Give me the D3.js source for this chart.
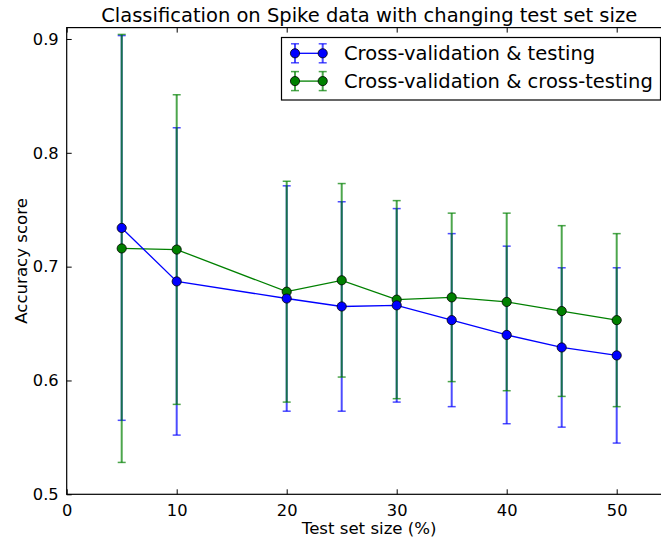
<!DOCTYPE html>
<html>
<head>
<meta charset="utf-8">
<script src="https://cdn.jsdelivr.net/npm/d3@7"></script>
<style>
  body { margin: 0; background: #fff; }
  text { font-family: "DejaVu Sans", sans-serif; fill: #000; }
</style>
</head>
<body>
<div id="chart"></div>
<script>
// Data
var testSizes = [5, 10, 20, 25, 30, 35, 40, 45, 50];
var testMean = [0.734, 0.687, 0.672, 0.665, 0.666, 0.653, 0.640, 0.629, 0.622];
var testErr = [0.169, 0.135, 0.099, 0.092, 0.085, 0.076, 0.078, 0.070, 0.077];
var crossMean = [0.716, 0.715, 0.678, 0.688, 0.671, 0.673, 0.669, 0.661, 0.653];
var crossErr = [0.188, 0.136, 0.097, 0.085, 0.087, 0.074, 0.078, 0.075, 0.076];
var xTicks = [0, 10, 20, 30, 40, 50];
var yTicks = [0.5, 0.6, 0.7, 0.8, 0.9];
var seriesNames = ["Cross-validation & testing", "Cross-validation & cross-testing"];

var svgWidth = 661;
var svgHeight = 540;

// axes box (right edge runs past the window like in the original)
var margin = { top: 27.6, left: 66.7 };
var width = 605;
var height = 466.7;

var svg = d3.select("#chart")
  .append("svg")
  .attr("width", svgWidth)
  .attr("height", svgHeight);

var chartGroup = svg.append("g")
  .attr("transform", `translate(${margin.left}, ${margin.top})`);

var xScale = d3.scaleLinear().domain([0, 55]).range([0, width]);
var yScale = d3.scaleLinear().domain([0.5, 0.91]).range([height, 0]);

var blue = "#0000ff";
var green = "#008000";

var series = [
  { name: seriesNames[0], color: blue, data: testSizes.map((x, i) => ({ x: x, y: testMean[i], e: testErr[i] })) },
  { name: seriesNames[1], color: green, data: testSizes.map((x, i) => ({ x: x, y: crossMean[i], e: crossErr[i] })) }
];

// error bars: blue first, green on top, both a little transparent
series.forEach(function(s) {
  var g = chartGroup.append("g")
    .attr("stroke", s.color)
    .attr("stroke-opacity", 0.7)
    .attr("stroke-width", 2);
  g.selectAll("line.bar")
    .data(s.data)
    .enter()
    .append("line")
    .attr("x1", d => xScale(d.x))
    .attr("x2", d => xScale(d.x))
    .attr("y1", d => yScale(d.y - d.e))
    .attr("y2", d => yScale(d.y + d.e));
  [-1, 1].forEach(function(sign) {
    g.selectAll(null)
      .data(s.data)
      .enter()
      .append("line")
      .attr("stroke-width", 1.5)
      .attr("x1", d => xScale(d.x) - 4)
      .attr("x2", d => xScale(d.x) + 4)
      .attr("y1", d => yScale(d.y + sign * d.e))
      .attr("y2", d => yScale(d.y + sign * d.e));
  });
});

// lines + markers (green first, blue markers end up on top)
var line = d3.line().x(d => xScale(d.x)).y(d => yScale(d.y));
[series[1], series[0]].forEach(function(s) {
  chartGroup.append("path")
    .datum(s.data)
    .attr("fill", "none")
    .attr("stroke", s.color)
    .attr("stroke-width", 1.3)
    .attr("d", line);
  chartGroup.selectAll(null)
    .data(s.data)
    .enter()
    .append("circle")
    .attr("cx", d => xScale(d.x))
    .attr("cy", d => yScale(d.y))
    .attr("r", 4.6)
    .attr("fill", s.color)
    .attr("stroke", "#000")
    .attr("stroke-width", 0.8);
});

// frame
chartGroup.append("rect")
  .attr("width", width)
  .attr("height", height)
  .attr("fill", "none")
  .attr("stroke", "#000")
  .attr("stroke-width", 1.2);

// inward ticks, matplotlib classic style
var bottomAxis = d3.axisBottom(xScale).tickValues(xTicks).tickSize(-5).tickPadding(10).tickFormat(d3.format("d"));
var topAxis = d3.axisTop(xScale).tickValues(xTicks).tickSize(-5).tickFormat("");
var leftAxis = d3.axisLeft(yScale).tickValues(yTicks).tickSize(-5).tickPadding(8).tickFormat(d3.format(".1f"));

var xAxis = chartGroup.append("g")
  .attr("transform", `translate(0, ${height})`)
  .call(bottomAxis);
chartGroup.append("g").call(topAxis);
var yAxis = chartGroup.append("g").call(leftAxis);

[xAxis, yAxis].forEach(function(a) {
  a.selectAll("text").style("font-size", "16.3px").attr("font-family", null);
});
chartGroup.selectAll(".domain").remove();
chartGroup.selectAll(".tick line").attr("stroke", "#000");

// title and axis labels
svg.append("text")
  .attr("x", margin.left + width / 2)
  .attr("y", 22)
  .attr("text-anchor", "middle")
  .style("font-size", "19.5px")
  .text("Classification on Spike data with changing test set size");

svg.append("text")
  .attr("x", margin.left + width / 2)
  .attr("y", 533.5)
  .attr("text-anchor", "middle")
  .style("font-size", "16.6px")
  .text("Test set size (%)");

svg.append("text")
  .attr("transform", `translate(26.7, ${margin.top + height / 2}) rotate(-90)`)
  .attr("text-anchor", "middle")
  .style("font-size", "16.6px")
  .text("Accuracy score");

// legend
var legend = svg.append("g");
legend.append("rect")
  .attr("x", 281.5)
  .attr("y", 37.5)
  .attr("width", 379)
  .attr("height", 62.5)
  .attr("fill", "#fff")
  .attr("stroke", "#000")
  .attr("stroke-width", 1.2);

series.forEach(function(s, i) {
  var ly = 53.3 + i * 27.8;
  var row = legend.append("g");
  row.append("line")
    .attr("x1", 295).attr("x2", 322.7)
    .attr("y1", ly).attr("y2", ly)
    .attr("stroke", s.color)
    .attr("stroke-width", 1.3);
  [295, 322.7].forEach(function(mx) {
    var eg = row.append("g").attr("stroke", s.color).attr("stroke-opacity", 0.7);
    eg.append("line").attr("x1", mx).attr("x2", mx).attr("y1", ly - 9.5).attr("y2", ly + 9.5).attr("stroke-width", 2);
    eg.append("line").attr("x1", mx - 4).attr("x2", mx + 4).attr("y1", ly - 9.5).attr("y2", ly - 9.5).attr("stroke-width", 1.5);
    eg.append("line").attr("x1", mx - 4).attr("x2", mx + 4).attr("y1", ly + 9.5).attr("y2", ly + 9.5).attr("stroke-width", 1.5);
    row.append("circle")
      .attr("cx", mx).attr("cy", ly).attr("r", 4.6)
      .attr("fill", s.color).attr("stroke", "#000").attr("stroke-width", 0.8);
  });
  row.append("text")
    .attr("x", 344)
    .attr("y", ly)
    .attr("dy", "0.36em")
    .style("font-size", "19.5px")
    .text(s.name);
});
</script>
</body>
</html>
